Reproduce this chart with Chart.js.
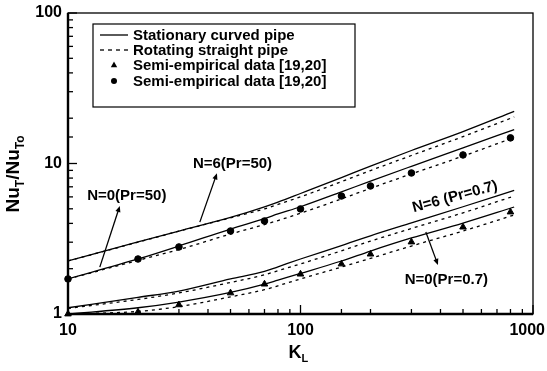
<!DOCTYPE html>
<html>
<head>
<meta charset="utf-8">
<script src="https://cdn.jsdelivr.net/npm/chart.js@4"></script>
<style>
  html, body { margin: 0; padding: 0; background: #fff; }
  #wrap { width: 547px; height: 371px; position: relative; }
</style>
</head>
<body>
<div id="wrap"><canvas id="chart"></canvas></div>
<script>
// K_L values for the computed curves and for the semi-empirical points
const kLine = [10, 20, 30, 50, 70, 80, 100, 150, 200, 300, 500, 830];
const kData = [10, 20, 30, 50, 70, 100, 150, 200, 300, 500, 800];

// Nu_T / Nu_To, curved pipe (solid) and rotating pipe (dashed)
const curvedN6Pr50   = [2.25, 3.01, 3.56, 4.38, 5.15, 5.54, 6.32, 8.05, 9.61, 12.2, 16.3, 22.2];
const rotatingN6Pr50 = [2.25, 3.00, 3.55, 4.35, 5.00, 5.35, 6.00, 7.58, 8.98, 11.3, 15.1, 20.4];
const curvedN0Pr50   = [1.71, 2.32, 2.83, 3.67, 4.31, 4.62, 5.16, 6.48, 7.64, 9.58, 12.7, 16.8];
const rotatingN0Pr50 = [1.71, 2.27, 2.68, 3.40, 3.93, 4.18, 4.67, 5.82, 6.84, 8.53, 11.2, 14.9];
const curvedN6Pr07   = [1.10, 1.29, 1.42, 1.71, 1.92, 2.06, 2.32, 2.85, 3.31, 4.03, 5.16, 6.62];
const rotatingN6Pr07 = [1.09, 1.25, 1.38, 1.62, 1.82, 1.94, 2.15, 2.63, 3.05, 3.70, 4.70, 6.08];
const curvedN0Pr07   = [1.00, 1.10, 1.20, 1.39, 1.58, 1.68, 1.86, 2.25, 2.62, 3.20, 4.02, 5.14];
const rotatingN0Pr07 = [1.00, 1.04, 1.12, 1.30, 1.45, 1.54, 1.71, 2.05, 2.34, 2.83, 3.56, 4.55];

// semi-empirical data [19,20]
const semiEmpPr07 = [1.00, 1.03, 1.15, 1.38, 1.58, 1.84, 2.15, 2.50, 3.01, 3.78, 4.76];
const semiEmpPr50 = [1.71, 2.32, 2.79, 3.56, 4.15, 4.99, 6.08, 7.09, 8.65, 11.4, 14.8];

const xTickLabels = [10, 100, 1000];
const yTickLabels = [1, 10, 100];

const legendLabels = [
  'Stationary curved pipe',
  'Rotating straight pipe',
  'Semi-empirical data [19,20]',
  'Semi-empirical data [19,20]'
];

// curve labels, placed in data coordinates (K_L, Nu ratio)
const curveNotes = [
  { text: 'N=6(Pr=50)',   at: [51, 10.0],  angle: 0,   from: [36.9, 4.08], to: [43.7, 8.6] },
  { text: 'N=0(Pr=50)',   at: [17.9, 6.08], angle: 0,  from: [13.7, 2.05], to: [16.7, 5.22] },
  { text: 'N=6 (Pr=0.7)', at: [462, 6.0],  angle: -15 },
  { text: 'N=0(Pr=0.7)',  at: [424, 1.68], angle: 0,   from: [346, 3.51],  to: [390, 2.12] }
];

const FONT = '"Liberation Sans", Arial, Helvetica, sans-serif';
const pts = (xs, ys) => xs.map((x, i) => ({ x, y: ys[i] }));

const solid = (data) => ({
  data: pts(kLine, data), borderColor: '#000', borderWidth: 1.3,
  pointRadius: 0, fill: false, cubicInterpolationMode: 'monotone'
});
const dashed = (data) => Object.assign(solid(data), { borderDash: [3, 4] });
const marks = (data, style, r) => ({
  data: pts(kData, data), showLine: false, pointStyle: style,
  pointRadius: r, pointBackgroundColor: '#000', pointBorderColor: '#000',
  pointBorderWidth: 1, clip: false
});

function arrow(ctx, x0, y0, x1, y1) {
  const a = Math.atan2(y1 - y0, x1 - x0);
  const len = 6, half = 2.6;
  ctx.beginPath();
  ctx.moveTo(x0, y0);
  ctx.lineTo(x1 - Math.cos(a) * len * 0.8, y1 - Math.sin(a) * len * 0.8);
  ctx.stroke();
  ctx.beginPath();
  ctx.moveTo(x1, y1);
  ctx.lineTo(x1 - Math.cos(a) * len - Math.sin(a) * half, y1 - Math.sin(a) * len + Math.cos(a) * half);
  ctx.lineTo(x1 - Math.cos(a) * len + Math.sin(a) * half, y1 - Math.sin(a) * len - Math.cos(a) * half);
  ctx.closePath();
  ctx.fill();
}

const decor = {
  id: 'decor',
  afterDraw(chart) {
    const { ctx, chartArea: a, scales: { x, y } } = chart;
    ctx.save();
    ctx.strokeStyle = '#000';
    ctx.fillStyle = '#000';

    // frame: thin top/right, heavy left/bottom
    ctx.lineWidth = 1.3;
    ctx.strokeRect(a.left, a.top, a.right - a.left, a.bottom - a.top);
    ctx.lineWidth = 2.4;
    ctx.beginPath();
    ctx.moveTo(a.left, a.top);
    ctx.lineTo(a.left, a.bottom);
    ctx.lineTo(a.right, a.bottom);
    ctx.stroke();

    // inward tick marks
    ctx.lineWidth = 1.3;
    const isMajor = v => Math.abs(Math.log10(v) - Math.round(Math.log10(v))) < 1e-9;
    x.ticks.forEach(t => {
      const px = x.getPixelForValue(t.value);
      const l = isMajor(t.value) ? 9 : 5;
      ctx.beginPath(); ctx.moveTo(px, a.bottom); ctx.lineTo(px, a.bottom - l); ctx.stroke();
    });
    y.ticks.forEach(t => {
      const py = y.getPixelForValue(t.value);
      const l = isMajor(t.value) ? 9 : 5;
      ctx.beginPath(); ctx.moveTo(a.left, py); ctx.lineTo(a.left + l, py); ctx.stroke();
    });

    // tick labels
    ctx.font = `bold 16px ${FONT}`;
    ctx.textBaseline = 'middle';
    ctx.textAlign = 'right';
    yTickLabels.forEach(v => ctx.fillText(String(v), a.left - 6, y.getPixelForValue(v)));
    ctx.textAlign = 'center';
    xTickLabels.forEach(v => {
      const s = String(v);
      const w = ctx.measureText(s).width;
      const px = Math.min(x.getPixelForValue(v), chart.width - w / 2 - 2);
      ctx.fillText(s, px, a.bottom + 17);
    });

    // axis titles
    ctx.textAlign = 'left';
    ctx.textBaseline = 'alphabetic';
    const cx = (a.left + a.right) / 2;
    ctx.font = `bold 18px ${FONT}`;
    const kw = ctx.measureText('K').width;
    ctx.fillText('K', cx - 12, a.bottom + 44);
    ctx.font = `bold 11px ${FONT}`;
    ctx.fillText('L', cx - 12 + kw, a.bottom + 48);

    ctx.save();
    ctx.translate(19, (a.top + a.bottom) / 2 + 49);
    ctx.rotate(-Math.PI / 2);
    let off = 0;
    [['Nu', 19, 0], ['T', 12, 5], ['/Nu', 19, 0], ['To', 12, 5]].forEach(([s, f, dy]) => {
      ctx.font = `bold ${f}px ${FONT}`;
      ctx.fillText(s, off, dy);
      off += ctx.measureText(s).width;
    });
    ctx.restore();

    // legend box
    const lx = a.left + 25, ly = a.top + 11, lw = 262, lh = 83;
    ctx.fillStyle = '#fff';
    ctx.fillRect(lx, ly, lw, lh);
    ctx.fillStyle = '#000';
    ctx.lineWidth = 1.2;
    ctx.strokeRect(lx, ly, lw, lh);
    const rowY = [11, 26, 41, 57];
    const sx0 = lx + 7, sx1 = lx + 35, tx = lx + 40;
    ctx.lineWidth = 1.3;
    rowY.forEach((dy, i) => {
      const ry = ly + dy;
      if (i < 2) {
        ctx.setLineDash(i === 1 ? [4, 4] : []);
        ctx.beginPath(); ctx.moveTo(sx0, ry); ctx.lineTo(sx1, ry); ctx.stroke();
        ctx.setLineDash([]);
      } else {
        const mx = (sx0 + sx1) / 2;
        ctx.beginPath();
        if (i === 2) {
          ctx.moveTo(mx, ry - 3.5); ctx.lineTo(mx + 3.2, ry + 2.2); ctx.lineTo(mx - 3.2, ry + 2.2);
          ctx.closePath();
        } else {
          ctx.arc(mx, ry, 3, 0, Math.PI * 2);
        }
        ctx.fill();
      }
      ctx.font = `bold 15px ${FONT}`;
      ctx.textBaseline = 'middle';
      ctx.fillText(legendLabels[i], tx, ry + 0.5);
    });

    // curve labels and arrows
    ctx.lineWidth = 1.3;
    curveNotes.forEach(n => {
      if (n.from) {
        arrow(ctx, x.getPixelForValue(n.from[0]), y.getPixelForValue(n.from[1]),
                   x.getPixelForValue(n.to[0]), y.getPixelForValue(n.to[1]));
      }
      ctx.save();
      ctx.translate(x.getPixelForValue(n.at[0]), y.getPixelForValue(n.at[1]));
      ctx.rotate(n.angle * Math.PI / 180);
      ctx.font = `bold 15px ${FONT}`;
      ctx.textAlign = 'center';
      ctx.textBaseline = 'middle';
      ctx.fillText(n.text, 0, 0);
      ctx.restore();
    });

    ctx.restore();
  }
};

new Chart(document.getElementById('chart'), {
  type: 'line',
  data: {
    datasets: [
      solid(curvedN6Pr50), dashed(rotatingN6Pr50),
      solid(curvedN0Pr50), dashed(rotatingN0Pr50),
      solid(curvedN6Pr07), dashed(rotatingN6Pr07),
      solid(curvedN0Pr07), dashed(rotatingN0Pr07),
      marks(semiEmpPr07, 'triangle', 3.8),
      marks(semiEmpPr50, 'circle', 3.3)
    ]
  },
  options: {
    responsive: true,
    maintainAspectRatio: false,
    animation: false,
    layout: { padding: { top: 13, right: 14, left: 0, bottom: 0 } },
    plugins: { legend: { display: false }, tooltip: { enabled: false } },
    scales: {
      x: {
        type: 'logarithmic', min: 10, max: 1000,
        grid: { display: false }, border: { display: false },
        ticks: { display: false },
        afterFit: s => { s.height = 57; }
      },
      y: {
        type: 'logarithmic', min: 1, max: 100,
        grid: { display: false }, border: { display: false },
        ticks: { display: false },
        afterFit: s => { s.width = 68; }
      }
    }
  },
  plugins: [decor]
});
</script>
</body>
</html>
